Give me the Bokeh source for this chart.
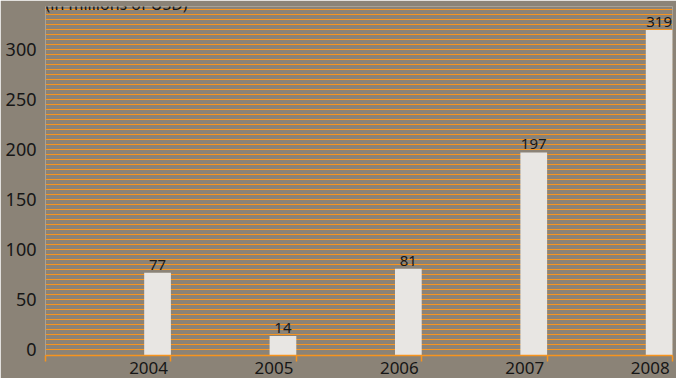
from bokeh.plotting import figure
from bokeh.models import Range1d, FixedTicker, Label
from bokeh.core.properties import value
from bokeh.embed import file_html
from bokeh.resources import INLINE

# Yearly values, in millions of USD
years = ["2004", "2005", "2006", "2007", "2008"]
values = [77, 14, 81, 197, 319]
y_tick_values = [0, 50, 100, 150, 200, 250, 300]
grid_step = 5
grid_top = 340

BG = "#8b8377"
ORANGE = "#f7941e"
BAR = "#e8e6e3"
INK = "#161616"
FONT = "Noto Sans"

Y0, Y1 = -5.5, 342.5
n = len(years)
bar_w = 0.213
bar_x = [i + 1 - bar_w / 2 for i in range(n)]
label_x = [round(i + 1 - 0.178, 3) for i in range(n)]

p = figure(width=676, height=378, output_backend="svg", toolbar_location=None,
           x_range=Range1d(0, n), y_range=Range1d(Y0, Y1),
           min_border_left=45, min_border_right=4, min_border_top=6, min_border_bottom=23)
p.background_fill_color = BG
p.border_fill_color = BG
p.outline_line_color = None

# dense horizontal grid every 5 units
p.xgrid.visible = False
p.ygrid.ticker = FixedTicker(ticks=list(range(0, grid_top + 1, grid_step)))
p.ygrid.grid_line_color = ORANGE
p.ygrid.grid_line_width = 1.2

# bars rise from the bottom edge of the frame
p.vbar(x=bar_x, width=bar_w, top=values, bottom=Y0, fill_color=BAR, line_color=None)
p.text(x=bar_x, y=values, text=[str(v) for v in values], text_align="center",
       text_baseline="bottom", text_font=value(FONT), text_font_size="15px",
       text_color=INK, y_offset=-3)

# y axis: labels only
p.yaxis.ticker = FixedTicker(ticks=y_tick_values)
p.yaxis.axis_line_color = None
p.yaxis.major_tick_line_color = None
p.yaxis.minor_tick_line_color = None
p.yaxis.major_label_standoff = 3
p.yaxis.major_label_text_font = FONT
p.yaxis.major_label_text_font_size = "18px"
p.yaxis.major_label_text_color = INK

# x axis: band-edge ticks, year labels at the right of each band
p.xaxis.ticker = FixedTicker(ticks=label_x, minor_ticks=list(range(0, n + 1)))
p.xaxis.major_label_overrides = {lx: y for lx, y in zip(label_x, years)}
p.xaxis.axis_line_color = ORANGE
p.xaxis.axis_line_width = 1.5
p.xaxis.major_tick_line_color = None
p.xaxis.major_tick_in = 0
p.xaxis.major_tick_out = 0
p.xaxis.minor_tick_line_color = ORANGE
p.xaxis.minor_tick_line_width = 1.5
p.xaxis.minor_tick_in = 0
p.xaxis.minor_tick_out = 6
p.xaxis.major_label_standoff = 0
p.xaxis.major_label_text_font = FONT
p.xaxis.major_label_text_font_size = "17px"
p.xaxis.major_label_text_color = INK

p.add_layout(Label(x=0, y=Y1, y_offset=3, text="(in millions of USD)",
                   text_font=FONT, text_font_size="16px", text_color=INK,
                   text_baseline="alphabetic"))

open("out.html", "w").write(file_html(p, INLINE))
